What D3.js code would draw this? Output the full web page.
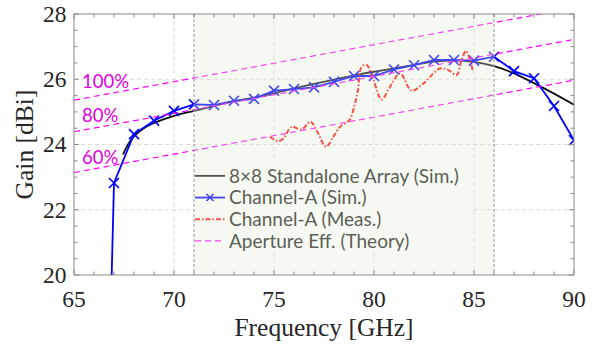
<!DOCTYPE html>
<html>
<head>
<meta charset="utf-8">
<script src="https://cdn.jsdelivr.net/npm/d3@7"></script>
<style>
  html, body { margin: 0; padding: 0; background: #fff; }
  svg { display: block; }
  .serif { font-family: 'Liberation Serif', 'Times New Roman', Times, serif; fill: #262626; }
  .sans { font-family: Lato, 'Noto Sans', sans-serif; }
</style>
</head>
<body>
<div id="chart"></div>
<script>
// tick values
const freqTicks = [65, 70, 75, 80, 85, 90];
const gainTicks = [20, 22, 24, 26, 28];

// 8x8 standalone array (sim.)
const arrayFreq = [67.45, 67.7, 68, 68.5, 69, 69.5, 70, 71, 72, 73, 74, 75, 76, 77, 78, 79, 80, 81, 82, 83, 84, 85, 86, 87, 88, 89, 90];
const arrayGain = [23.7, 24.0, 24.25, 24.5, 24.66, 24.78, 24.88, 25.03, 25.18, 25.32, 25.44, 25.57, 25.72, 25.86, 25.99, 26.12, 26.23, 26.33, 26.44, 26.54, 26.57, 26.53, 26.40, 26.18, 25.88, 25.56, 25.22];

// Channel-A (sim.), first point is where the line leaves the bottom of the axes
const chSimFreq = [66.88, 67, 68, 69, 70, 71, 72, 73, 74, 75, 76, 77, 78, 79, 80, 81, 82, 83, 84, 85, 86, 87, 88, 89, 90];
const chSimGain = [19.9, 22.82, 24.32, 24.73, 25.03, 25.23, 25.21, 25.34, 25.40, 25.65, 25.70, 25.75, 25.92, 26.10, 26.10, 26.30, 26.43, 26.59, 26.59, 26.57, 26.69, 26.25, 26.03, 25.18, 24.13];

// Channel-A (meas.)
const chMeasFreq = [74.8, 75.22, 75.47, 75.88, 76.38, 76.83, 77.13, 77.6, 77.97, 78.3, 78.77, 79.05, 79.2, 79.38, 79.63, 79.97, 80.38, 80.8, 81.3, 81.88, 82.47, 83.3, 83.72, 84.13, 84.38, 84.6, 84.8, 84.93];
const chMeasGain = [24.24, 24.10, 24.19, 24.54, 24.46, 24.70, 24.44, 23.93, 24.24, 24.54, 24.75, 25.26, 25.67, 26.38, 26.44, 25.98, 25.38, 25.77, 26.18, 25.65, 25.87, 26.33, 26.28, 26.13, 26.59, 26.87, 26.59, 26.28];

// aperture efficiency (theory) lines
const effLabels = ['100%', '80%', '60%'];
const effFreq = [65, 90];
const effGain = [[25.36, 28.19], [24.39, 27.22], [23.14, 25.97]];

// shaded band
const bandFreq = [71, 86];

const legendLabels = ['8\u00d78 Standalone Array (Sim.)', 'Channel-A (Sim.)', 'Channel-A (Meas.)', 'Aperture Eff. (Theory)'];

const W = 601, H = 345;
const margin = { top: 14, right: 27, bottom: 70, left: 74 };
const width = W - margin.left - margin.right;
const height = H - margin.top - margin.bottom;

const svg = d3.select('#chart').append('svg')
    .attr('width', W)
    .attr('height', H);

const g = svg.append('g')
    .attr('transform', `translate(${margin.left},${margin.top})`);

const x = d3.scaleLinear().domain([65, 90]).range([0, width]);
const y = d3.scaleLinear().domain([20, 28]).range([height, 0]);

svg.append('defs').append('clipPath').attr('id', 'clip')
    .append('rect').attr('width', width).attr('height', height);

// grid
const grid = g.append('g').attr('stroke', '#d9d9d9').attr('stroke-dasharray', '4,3').attr('stroke-width', 1);
freqTicks.slice(1, -1).forEach(f => {
    grid.append('line').attr('x1', x(f)).attr('x2', x(f)).attr('y1', 0).attr('y2', height);
});
gainTicks.slice(1, -1).forEach(v => {
    grid.append('line').attr('x1', 0).attr('x2', width).attr('y1', y(v)).attr('y2', y(v));
});

const plot = g.append('g').attr('clip-path', 'url(#clip)');

// 8x8 array
const arrayData = arrayFreq.map((f, i) => [f, arrayGain[i]]);
plot.append('path')
    .datum(arrayData)
    .attr('fill', 'none')
    .attr('stroke', '#111')
    .attr('stroke-width', 1.8)
    .attr('d', d3.line().x(d => x(d[0])).y(d => y(d[1])).curve(d3.curveMonotoneX));

// Channel-A sim
const simData = chSimFreq.map((f, i) => [f, chSimGain[i]]);
plot.append('path')
    .datum(simData)
    .attr('fill', 'none')
    .attr('stroke', '#0000ff')
    .attr('stroke-width', 1.8)
    .attr('d', d3.line().x(d => x(d[0])).y(d => y(d[1])));

const markerPath = 'M-5,-5L5,5M-5,5L5,-5';
plot.selectAll('.mk')
    .data(simData.filter(d => Number.isInteger(d[0])))
    .join('path')
    .attr('class', 'mk')
    .attr('transform', d => `translate(${x(d[0])},${y(d[1])})`)
    .attr('d', markerPath)
    .attr('stroke', '#0000ff')
    .attr('stroke-width', 1.6)
    .attr('fill', 'none');

// Channel-A meas
const measData = chMeasFreq.map((f, i) => [f, chMeasGain[i]]);
plot.append('path')
    .datum(measData)
    .attr('fill', 'none')
    .attr('stroke', '#ff1010')
    .attr('stroke-width', 2)
    .attr('stroke-dasharray', '5,2,1.5,2')
    .attr('d', d3.line().x(d => x(d[0])).y(d => y(d[1])).curve(d3.curveCatmullRom));

// aperture efficiency
effGain.forEach(vals => {
    plot.append('path')
        .datum(effFreq.map((f, i) => [f, vals[i]]))
        .attr('fill', 'none')
        .attr('stroke', '#ff00ff')
        .attr('stroke-width', 1.2)
        .attr('stroke-dasharray', '6,4')
        .attr('d', d3.line().x(d => x(d[0])).y(d => y(d[1])));
});

// efficiency labels
const labelOffset = [11, 8, 7];
effLabels.forEach((t, i) => {
    const v = effGain[i][0] + (effGain[i][1] - effGain[i][0]) * 0.4 / 25;
    g.append('text')
        .attr('class', 'sans')
        .attr('x', x(65.4))
        .attr('y', y(v) - labelOffset[i])
        .attr('font-size', 18.5)
        .attr('fill', '#e000e0')
        .text(t);
});

// legend
const lx = x(71) + 1, ly = 162 - margin.top, lh = 21.7;
const legend = g.append('g');
legend.append('rect')
    .attr('x', lx).attr('y', ly - 2)
    .attr('width', 275).attr('height', lh * 4 + 2)
    .attr('fill', '#fff');
const legendStyles = [
    { color: '#111', dash: null, marker: false },
    { color: '#0000ff', dash: null, marker: true },
    { color: '#ff1010', dash: '5,2,1.5,2', marker: false },
    { color: '#ff00ff', dash: '6,4', marker: false }
];
legendLabels.forEach((t, i) => {
    const cy = ly + lh * (i + 0.5) + 3;
    const st = legendStyles[i];
    legend.append('line')
        .attr('x1', lx).attr('x2', lx + 30)
        .attr('y1', cy).attr('y2', cy)
        .attr('stroke', st.color)
        .attr('stroke-width', i === 3 ? 1.2 : 1.8)
        .attr('stroke-dasharray', st.dash);
    if (st.marker) {
        legend.append('path')
            .attr('transform', `translate(${lx + 15},${cy})`)
            .attr('d', 'M-3.5,-3.5L3.5,3.5M-3.5,3.5L3.5,-3.5')
            .attr('stroke', st.color).attr('stroke-width', 1.6);
    }
    legend.append('text')
        .attr('class', 'sans')
        .attr('x', lx + 34)
        .attr('y', cy)
        .attr('dy', '0.35em')
        .attr('font-size', 19)
        .attr('fill', '#222')
        .text(t);
});

// shaded band drawn over the lines
g.append('rect')
    .attr('x', x(bandFreq[0]))
    .attr('y', 0)
    .attr('width', x(bandFreq[1]) - x(bandFreq[0]))
    .attr('height', height)
    .attr('fill', 'rgb(224,236,209)')
    .attr('fill-opacity', 0.3);
bandFreq.forEach(f => {
    g.append('line')
        .attr('x1', x(f)).attr('x2', x(f))
        .attr('y1', 0).attr('y2', height)
        .attr('stroke', '#999')
        .attr('stroke-width', 1)
        .attr('stroke-dasharray', '3,2');
});

// axes box with inward ticks on all sides
const axisColor = '#8a8a8a';
g.append('rect')
    .attr('width', width).attr('height', height)
    .attr('fill', 'none')
    .attr('stroke', axisColor)
    .attr('stroke-width', 1);

const minorF = d3.range(65, 90.01, 1);
const minorG = d3.range(20, 28.01, 0.5);
const ticks = g.append('g').attr('stroke', axisColor).attr('stroke-width', 1);
minorF.forEach(f => {
    const len = freqTicks.includes(f) ? 5 : 3.5;
    ticks.append('line').attr('x1', x(f)).attr('x2', x(f)).attr('y1', height).attr('y2', height - len);
    ticks.append('line').attr('x1', x(f)).attr('x2', x(f)).attr('y1', 0).attr('y2', len);
});
minorG.forEach(v => {
    const len = gainTicks.includes(v) ? 5 : 3.5;
    ticks.append('line').attr('x1', 0).attr('x2', len).attr('y1', y(v)).attr('y2', y(v));
    ticks.append('line').attr('x1', width).attr('x2', width - len).attr('y1', y(v)).attr('y2', y(v));
});

// tick labels
g.selectAll('.xl')
    .data(freqTicks)
    .join('text')
    .attr('class', 'serif xl')
    .attr('x', d => x(d))
    .attr('y', height + 31.5)
    .attr('text-anchor', 'middle')
    .attr('font-size', 23.5)
    .text(d => d);

g.selectAll('.yl')
    .data(gainTicks)
    .join('text')
    .attr('class', 'serif yl')
    .attr('x', -7.5)
    .attr('y', d => y(d))
    .attr('dy', '0.34em')
    .attr('text-anchor', 'end')
    .attr('font-size', 23.5)
    .text(d => d);

g.append('text')
    .attr('class', 'serif')
    .attr('x', width / 2)
    .attr('y', height + 61)
    .attr('text-anchor', 'middle')
    .attr('font-size', 25.5)
    .text('Frequency [GHz]');

g.append('text')
    .attr('class', 'serif')
    .attr('transform', `translate(${-41},${height / 2}) rotate(-90)`)
    .attr('text-anchor', 'middle')
    .attr('font-size', 25.5)
    .text('Gain [dBi]');
</script>
</body>
</html>
